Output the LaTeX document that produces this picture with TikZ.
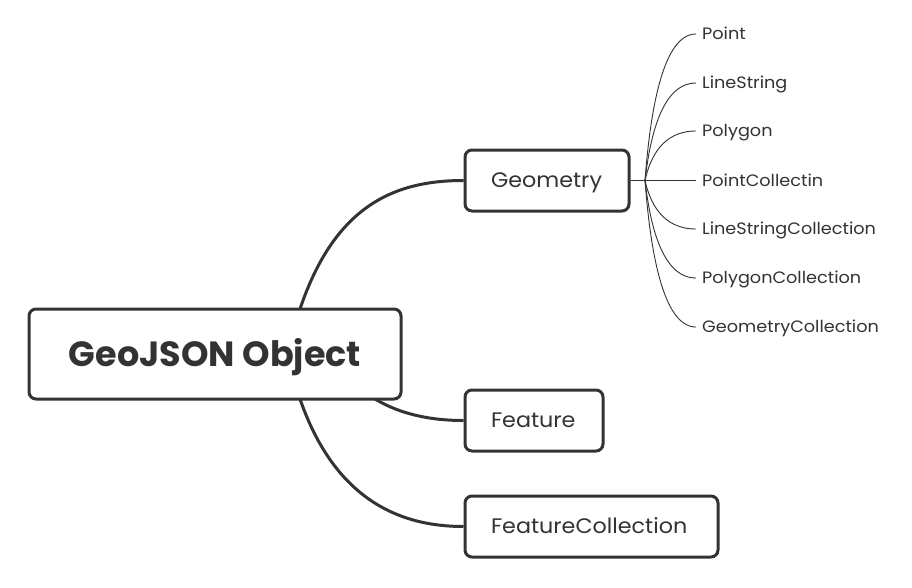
\documentclass[tikz,border=0pt]{standalone}
\usepackage{fontspec}
\setmainfont{Poppins}
\newfontfamily\boxfont[FakeStretch=1.06]{Poppins}
\newfontfamily\leaffont[FakeStretch=1.07]{Poppins}
\definecolor{ink}{HTML}{333333}
\begin{document}
\begin{tikzpicture}[x=1pt,y=-1pt,
  box/.style={draw=ink, line width=3pt, rounded corners=7pt, text=ink, inner xsep=0pt, inner ysep=0pt, align=left, text depth=0pt},
  child/.style={box, minimum height=61pt, text height=14.7pt, font=\boxfont\fontsize{21}{24}\selectfont},
  branch/.style={draw=ink, line width=3pt},
  leafline/.style={draw=ink, line width=0.9pt},
  leaf/.style={anchor=base west, text=ink, font=\leaffont\fontsize{16.5}{19}\selectfont, inner sep=0pt}]
\useasboundingbox[fill=white] (0,0) rectangle (912,587);
% root
\node[box, align=center, minimum width=372pt, minimum height=90pt, text height=24.5pt, font=\fontsize{35}{40}\selectfont\bfseries] (root) at (215,354) {GeoJSON Object};
% children
\node[child, minimum width=164pt, text width=112pt] (geom) at (547,180.5) {Geometry};
\node[child, minimum width=138pt, text width=86pt] (feat) at (534,420.5) {Feature};
\node[child, minimum width=253pt, text width=201pt] (fc) at (591.5,526.5) {FeatureCollection};
% connector anchors
\coordinate (rtop) at (300,309);
\coordinate (rbot) at (300,399);
\coordinate (rbot2) at (375,399);
\draw[branch] (rtop) .. controls (335,205) and (395,180.5) .. (geom.west);
\draw[branch] (rbot2) .. controls (400,414) and (430,420.5) .. (feat.west);
\draw[branch] (rbot) .. controls (335,500) and (400,526.5) .. (fc.west);
% leaves
\coordinate (hub) at (645,180.5);
\draw[leafline] (geom.east) -- (hub);
\foreach \name/\txt/\yy in {l1/Point/34, l2/LineString/83, l3/Polygon/131, l4/PointCollectin/180.5, l5/LineStringCollection/229, l6/PolygonCollection/278, l7/GeometryCollection/327}{
  \node[leaf] (\name) at (702,{\yy+5.7}) {\txt};
  \coordinate (\name e) at (696,\yy);
  \draw[leafline] (hub) .. controls (650,{\yy+(180.5-\yy)*0.55}) and (662,\yy) .. (\name e);
}
\end{tikzpicture}
\end{document}
